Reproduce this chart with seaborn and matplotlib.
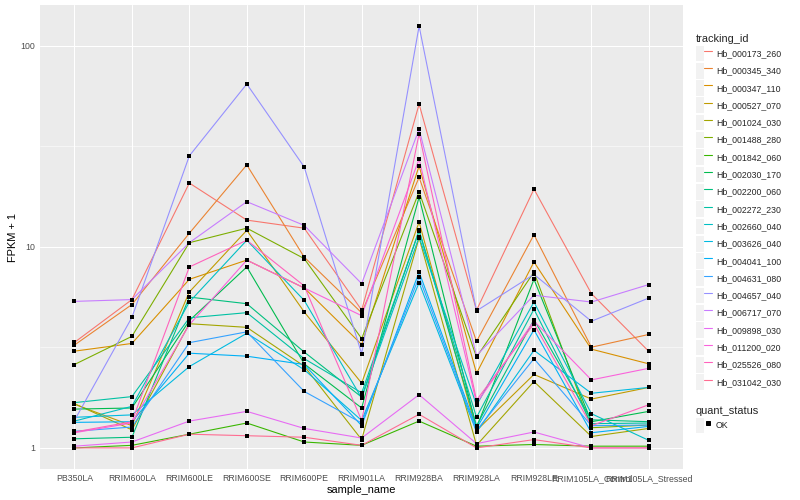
import numpy as np
import pandas as pd
import matplotlib
matplotlib.use("Agg")
import matplotlib.pyplot as plt
import seaborn as sns
from matplotlib.lines import Line2D
from matplotlib.patches import Rectangle
from matplotlib.legend_handler import HandlerTuple
from matplotlib.ticker import FixedLocator, NullFormatter

samples = ["PB350LA", "RRIM600LA", "RRIM600LE", "RRIM600SE", "RRIM600PE", "RRIM901LA",
           "RRIM928BA", "RRIM928LA", "RRIM928LE", "RRIM105LA_Control", "RRIM105LA_Stressed"]

tracking_ids = ["Hb_000173_260", "Hb_000345_340", "Hb_000347_110", "Hb_000527_070",
                "Hb_001024_030", "Hb_001488_280", "Hb_001842_060", "Hb_002030_170",
                "Hb_002200_060", "Hb_002272_230", "Hb_002660_040", "Hb_003626_040",
                "Hb_004041_100", "Hb_004631_080", "Hb_004657_040", "Hb_006717_070",
                "Hb_009898_030", "Hb_011200_020", "Hb_025526_080", "Hb_031042_030"]

# FPKM + 1 per sample (order of `samples`)
hb_000173_260 = [3.35, 5.47, 20.8, 13.6, 12.4, 4.85, 51.4, 4.84, 19.4, 5.86, 3.02]
hb_000345_340 = [3.25, 5.17, 11.7, 25.6, 8.9, 4.7, 22.2, 3.39, 11.5, 3.17, 3.67]
hb_000347_110 = [3.03, 3.31, 6.9, 8.6, 6.25, 3.27, 25.3, 2.35, 8.42, 3.1, 2.62]
hb_000527_070 = [1.65, 1.29, 5.97, 12.1, 4.75, 2.1, 13.3, 1.22, 2.32, 1.75, 2.0]
hb_001024_030 = [1.66, 1.23, 4.15, 3.98, 2.55, 1.1, 11.1, 1.03, 2.14, 1.14, 1.25]
hb_001488_280 = [2.6, 3.59, 10.5, 12.4, 8.75, 3.5, 18.8, 2.83, 7.5, 1.26, 1.3]
hb_001842_060 = [1.0, 1.03, 1.17, 1.33, 1.07, 1.03, 1.36, 1.02, 1.04, 1.02, 1.02]
hb_002030_170 = [1.56, 1.58, 4.3, 7.95, 2.62, 1.58, 17.7, 1.26, 6.9, 1.35, 1.52]
hb_002200_060 = [1.11, 1.13, 5.63, 5.22, 3.0, 1.79, 12.1, 1.29, 4.35, 1.38, 1.35]
hb_002272_230 = [1.68, 1.8, 4.44, 4.71, 2.78, 1.88, 12.0, 1.42, 4.9, 1.32, 1.33]
hb_002660_040 = [1.36, 1.61, 5.32, 10.8, 5.42, 1.77, 11.2, 1.63, 5.32, 1.48, 1.09]
hb_003626_040 = [1.42, 1.46, 2.54, 3.72, 2.45, 1.37, 6.64, 1.2, 3.06, 1.87, 2.0]
hb_004041_100 = [1.34, 1.35, 2.96, 2.86, 2.6, 1.29, 7.5, 1.25, 3.87, 1.19, 1.28]
hb_004631_080 = [1.21, 1.27, 3.34, 3.78, 1.91, 1.33, 7.08, 1.22, 2.78, 1.29, 1.3]
hb_004657_040 = [1.37, 4.46, 28.4, 64.7, 25.0, 2.94, 125.6, 4.81, 7.3, 4.27, 5.57]
hb_006717_070 = [5.36, 5.47, 10.5, 16.8, 12.8, 6.57, 38.6, 2.88, 5.75, 5.32, 6.5]
hb_009898_030 = [1.02, 1.07, 1.36, 1.52, 1.25, 1.12, 1.84, 1.05, 1.2, 1.0, 1.0]
hb_011200_020 = [1.19, 1.33, 4.1, 8.6, 6.25, 4.55, 27.4, 1.67, 4.28, 2.18, 2.49]
hb_025526_080 = [1.2, 1.35, 7.95, 10.8, 6.4, 1.37, 36.6, 1.73, 4.15, 1.29, 1.64]
hb_031042_030 = [1.0, 1.0, 1.17, 1.15, 1.13, 1.03, 1.47, 1.0, 1.1, 1.0, 1.0]

series_values = [hb_000173_260, hb_000345_340, hb_000347_110, hb_000527_070, hb_001024_030,
                 hb_001488_280, hb_001842_060, hb_002030_170, hb_002200_060, hb_002272_230,
                 hb_002660_040, hb_003626_040, hb_004041_100, hb_004631_080, hb_004657_040,
                 hb_006717_070, hb_009898_030, hb_011200_020, hb_025526_080, hb_031042_030]

palette = ["#F8766D", "#EA8331", "#D89000", "#C09B00", "#A3A500", "#7CAE00", "#39B600",
           "#00BB4E", "#00BF7D", "#00C1A3", "#00BFC4", "#00BAE0", "#00B0F6", "#35A2FF",
           "#9590FF", "#C77CFF", "#E76BF3", "#FA62DB", "#FF62BC", "#FF6C91"]

quant_status = ["OK"]
y_ticks = [1, 10, 100]
y_tick_labels = ["1", "10", "100"]

rows = []
for tid, vals in zip(tracking_ids, series_values):
    for s, v in zip(samples, vals):
        rows.append({"tracking_id": tid, "sample_name": s, "fpkm": v, "quant_status": "OK"})
df = pd.DataFrame(rows)

sns.set_theme(style="white")
plt.rcParams["font.family"] = ["Liberation Sans", "DejaVu Sans"]

W, H = 800, 500
fig = plt.figure(figsize=(W / 72, H / 72), dpi=72)
ax = fig.add_axes([40 / W, 1 - 469 / H, (683.3 - 40) / W, (469 - 5) / H])
ax.set_facecolor("#EBEBEB")

sns.lineplot(data=df, x="sample_name", y="fpkm", hue="tracking_id", hue_order=tracking_ids,
             palette=palette, legend=False, ax=ax, linewidth=1.1, sort=False,
             errorbar=None, zorder=2)
sns.scatterplot(data=df, x="sample_name", y="fpkm", color="black", marker="s", s=11,
                linewidth=0, ax=ax, legend=False, zorder=3)

ax.set_yscale("log")
lo, hi = np.log10(df["fpkm"].min()), np.log10(df["fpkm"].max())
pad = 0.05 * (hi - lo)
ax.set_ylim(10 ** (lo - pad), 10 ** (hi + pad))
ax.set_xlim(-0.6, len(samples) - 0.4)

ax.yaxis.set_major_locator(FixedLocator(y_ticks))
ax.set_yticklabels(y_tick_labels)
ax.yaxis.set_minor_locator(FixedLocator([10 ** 0.5, 10 ** 1.5]))
ax.yaxis.set_minor_formatter(NullFormatter())

ax.set_axisbelow(True)
ax.grid(which="major", color="white", linewidth=1.07)
ax.grid(which="minor", axis="y", color="white", linewidth=0.53)
for sp in ax.spines.values():
    sp.set_visible(False)
ax.tick_params(axis="both", which="major", length=2.75, width=1.07, color="#333333",
               labelcolor="#4D4D4D", labelsize=8.8, pad=2.2)
ax.tick_params(axis="y", which="minor", length=0)

ax.set_xlabel("sample_name", fontsize=11, color="black", labelpad=2)
ax.set_ylabel("FPKM + 1", fontsize=11, color="black", labelpad=2)

legend_kw = dict(handler_map={tuple: HandlerTuple(ndivide=None, pad=0)},
                 loc="upper left", bbox_transform=fig.transFigure, frameon=False,
                 fontsize=8.8, title_fontsize=11, alignment="left",
                 handlelength=1.8, handleheight=2.37, labelspacing=0.18,
                 handletextpad=0.45, borderpad=0, borderaxespad=0)

# legend: tracking_id
handles = [(Rectangle((0, 0), 1, 1, facecolor="#F2F2F2", edgecolor="none"),
            Line2D([], [], color=c, lw=1.1)) for c in palette]
leg1 = fig.legend(handles, tracking_ids, bbox_to_anchor=(696 / W, 1 - 34 / H),
                  title="tracking_id", **legend_kw)

# legend: quant_status
h2 = [(Rectangle((0, 0), 1, 1, facecolor="#F2F2F2", edgecolor="none"),
       Line2D([], [], color="black", marker="s", markersize=3.2, linestyle="none"))]
leg2 = fig.legend(h2, quant_status, bbox_to_anchor=(696 / W, 1 - 406 / H),
                  title="quant_status", **legend_kw)

fig.savefig("out.png", dpi=72, facecolor="white")
